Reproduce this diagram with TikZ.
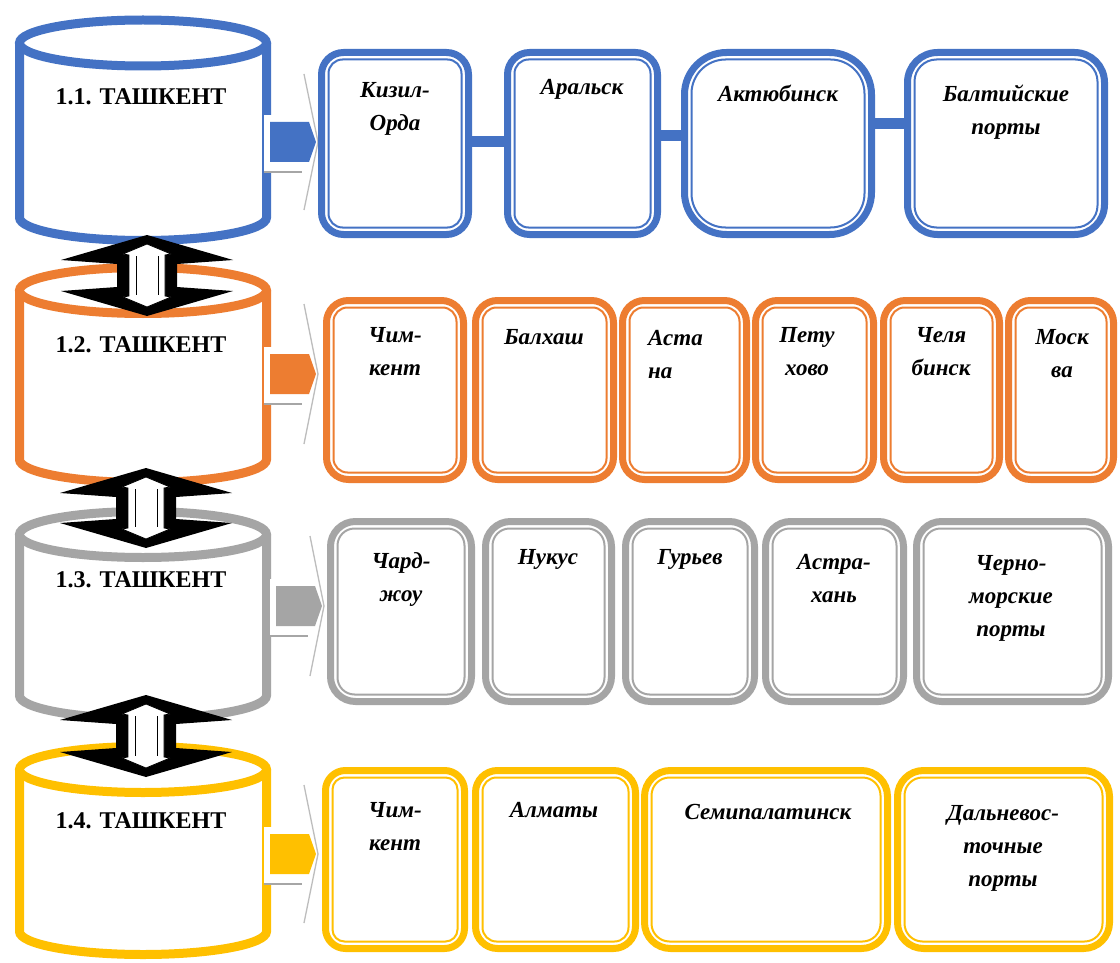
\documentclass[tikz,border=0pt]{standalone}
\usepackage{fontspec}
\setmainfont{Liberation Serif}
\definecolor{cblue}{HTML}{4472C4}
\definecolor{corange}{HTML}{ED7D31}
\definecolor{cgray}{HTML}{A5A5A5}
\definecolor{cyellow}{HTML}{FFC000}
\definecolor{chevgray}{HTML}{BDBDBD}
\definecolor{shadowgray}{HTML}{A6A6A6}

% tank: colour, top ellipse centre y, bottom ellipse centre y
\newcommand\tank[3]{%
  \fill[white] (19.5,#2) -- (19.5,#3) arc[start angle=180,end angle=0,x radius=123.5,y radius=23] -- (266.5,#2) -- cycle;
  \draw[draw=#1,line width=9pt] (19.5,#2) -- (19.5,#3) arc[start angle=180,end angle=0,x radius=123.5,y radius=23] -- (266.5,#2);
  \draw[draw=#1,line width=9pt,fill=white] (143,#2) ellipse[x radius=123.5,y radius=23];
}
% two-headed block arrow: centre x, top tip y, bottom tip y
\newcommand\updown[3]{%
  \fill[black] (#1,#2) -- ({#1+86},{#2+25}) -- ({#1+30},{#2+29}) -- ({#1+30},{#3-29}) -- ({#1+86},{#3-25}) -- (#1,#3)
     -- ({#1-86},{#3-25}) -- ({#1-30},{#3-29}) -- ({#1-30},{#2+29}) -- ({#1-86},{#2+25}) -- cycle;
  \filldraw[fill=white,draw=black,line width=0.8pt] (#1,{#2+9}) -- ({#1+24},{#2+19}) -- ({#1+18},{#2+20}) -- ({#1+18},{#3-20})
     -- ({#1+24},{#3-19}) -- (#1,{#3-9}) -- ({#1-24},{#3-19}) -- ({#1-18},{#3-20}) -- ({#1-18},{#2+20}) -- ({#1-24},{#2+19}) -- cycle;
  \draw[line width=0.8pt] ({#1-11},{#2+21}) -- ({#1-11},{#3-21}) ({#1+11},{#2+21}) -- ({#1+11},{#3-21});
}
% feed arrow from a tank to its row: colour, x offset, centre y, chevron half height
\newcommand\feed[4]{%
  \fill[white] ({264+#2},{#3-27}) rectangle ({302+#2},{#3+30});
  \draw[draw=shadowgray,line width=2pt] ({264+#2},{#3+30}) -- ({302+#2},{#3+30});
  \draw[chev] ({304+#2},{#3-#4}) -- ({318+#2},#3) -- ({304+#2},{#3+#4});
  \fill[#1] ({270+#2},{#3-20}) -- ({309+#2},{#3-20}) -- ({316+#2},#3) -- ({309+#2},{#3+20}) -- ({270+#2},{#3+20}) -- cycle;
}
% station box: name, colour, x1, y1, x2, y2 (outer edges), outer radius, inner radius
\newcommand\routebox[8]{%
  \node[rbox,draw=#2,rounded corners=#7pt,minimum width={#5pt-#3pt-7pt},minimum height={#6pt-#4pt-7pt}]
     (#1) at ({(#3+#5)/2},{(#4+#6)/2}) {};
  \draw[draw=#2,inner,rounded corners=#8pt] ([shift={(10.5,10.5)}]#1.north west) rectangle ([shift={(-10.5,-10.5)}]#1.south east);
}

\begin{document}
\begin{tikzpicture}[x=1pt,y=-1pt,
  tanklabel/.style={font=\bfseries\fontsize{24}{28}\selectfont,inner sep=0},
  rbox/.style={line width=7pt,fill=white,inner sep=0},
  inner/.style={line width=2pt},
  stoptext/.style={font=\bfseries\itshape\fontsize{23}{33}\selectfont,align=center,inner sep=0,anchor=north},
  link/.style={draw=cblue,line width=11pt},
  chev/.style={draw=chevgray,line width=1.3pt},
]
\useasboundingbox[fill=white] (0,0) rectangle (1120,963);

% tanks
\tank{cblue}{43}{217.5}
\tank{corange}{290.5}{459.5}
\tank{cgray}{534.5}{695.5}
\tank{cyellow}{769.5}{931.5}

% feed arrows
\feed{cblue}{0}{142}{68}
\feed{corange}{0}{374}{70}
\feed{cgray}{6}{606}{70}
\feed{cyellow}{0}{854}{69}

% row 1
\routebox{b11}{cblue}{318}{49}{472}{238}{22}{14}
\routebox{b12}{cblue}{504}{49}{661}{238}{22}{14}
\routebox{b13}{cblue}{681}{49}{875}{238}{42}{34}
\routebox{b14}{cblue}{904}{49}{1108}{238}{30}{22}
\draw[link] ([yshift=1.5pt]b11.east) -- ([yshift=1.5pt]b12.west);
\draw[link] ([yshift=7.5pt]b12.east) -- ([yshift=7.5pt]b13.west);
\draw[link] ([yshift=19.5pt]b13.east) -- ([yshift=19.5pt]b14.west);

% row 2
\routebox{b21}{corange}{323}{297}{467}{483}{22}{14}
\routebox{b22}{corange}{472}{297}{617}{483}{22}{14}
\routebox{b23}{corange}{619}{297}{750}{483}{22}{14}
\routebox{b24}{corange}{752}{297}{877}{483}{22}{14}
\routebox{b25}{corange}{880}{297}{1003}{483}{22}{14}
\routebox{b26}{corange}{1005}{297}{1117}{483}{22}{14}

% row 3
\routebox{b31}{cgray}{327}{518}{475}{705}{25}{17}
\routebox{b32}{cgray}{482}{518}{615}{705}{25}{17}
\routebox{b33}{cgray}{622}{518}{758}{705}{25}{17}
\routebox{b34}{cgray}{762}{518}{907}{705}{25}{17}
\routebox{b35}{cgray}{913}{518}{1112}{705}{25}{17}

% row 4
\routebox{b41}{cyellow}{322}{767}{468}{952}{20}{12}
\routebox{b42}{cyellow}{472}{767}{639}{952}{22}{14}
\routebox{b43}{cyellow}{641}{767}{891}{952}{26}{18}
\routebox{b44}{cyellow}{894}{767}{1113}{952}{26}{18}

% links between tanks
\updown{147}{235}{316}
\updown{146}{468}{548}
\updown{146}{695}{777}

% tank labels
\node[tanklabel] (k1) at (141,97) {1.1. ТАШКЕНТ};
\node[tanklabel] (k2) at (141,345) {1.2. ТАШКЕНТ};
\node[tanklabel] (k3) at (141,580) {1.3. ТАШКЕНТ};
\node[tanklabel] (k4) at (141,821) {1.4. ТАШКЕНТ};

% station names
\node[stoptext] (t11) at (395,82) {Кизил-\\Орда};
\node[stoptext] (t12) at (582,79) {Аральск};
\node[stoptext] (t13) at (778,85) {Актюбинск};
\node[stoptext] (t14) at (1006,85) {Балтийские\\порты};

\node[stoptext] (t21) at (395,327) {Чим-\\кент};
\node[stoptext] (t22) at (544,329) {Балхаш};
\node[stoptext,align=left,anchor=north west] (t23) at (648,330) {Аста\\на};
\node[stoptext] (t24) at (807,327) {Пету\\хово};
\node[stoptext] (t25) at (941,327) {Челя\\бинск};
\node[stoptext] (t26) at (1062,329) {Моск\\ва};

\node[stoptext] (t31) at (401,552) {Чард-\\жоу};
\node[stoptext] (t32) at (548,549) {Нукус};
\node[stoptext] (t33) at (690,549) {Гурьев};
\node[stoptext] (t34) at (834,554) {Астра-\\хань};
\node[stoptext] (t35) at (1011,555) {Черно-\\морские\\порты};

\node[stoptext] (t41) at (395,802) {Чим-\\кент};
\node[stoptext] (t42) at (554,802) {Алматы};
\node[stoptext] (t43) at (768,804) {Семипалатинск};
\node[stoptext] (t44) at (1003,805) {Дальневос-\\точные\\порты};
\end{tikzpicture}
\end{document}
